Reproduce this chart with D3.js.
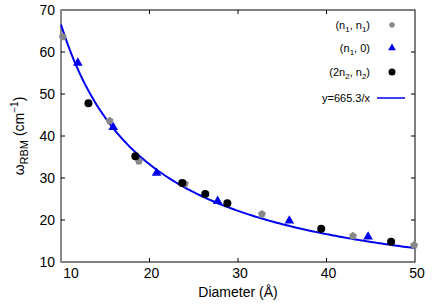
<!DOCTYPE html>
<meta charset="utf-8">
<head>
  <script src="https://d3js.org/d3.v7.min.js"></script>
</head>
<body style="margin:0">
<div id="chart"></div>
<style>
  #chart text { font-family: "Liberation Sans", Arial, sans-serif; fill: #000; }
</style>
<script>
"use strict"

// (n1, n1) armchair
var armX = [10.2, 15.5, 18.8, 24.0, 32.7, 43.0, 49.9];
var armY = [63.6, 43.6, 34.0, 28.6, 21.4, 16.2, 14.0];
// (n1, 0) zigzag
var zigX = [11.9, 15.9, 20.8, 27.7, 35.8, 44.7];
var zigY = [57.4, 42.1, 31.2, 24.5, 19.8, 16.0];
// (2n2, n2) chiral
var chiX = [13.1, 18.4, 23.7, 26.3, 28.8, 39.4, 47.3];
var chiY = [47.8, 35.2, 28.8, 26.2, 24.0, 17.9, 14.8];
var fitA = 665.3;
var xTicks = [10, 20, 30, 40, 50];
var yTicks = [10, 20, 30, 40, 50, 60, 70];
var legendLabels = ["(n1, n1)", "(n1, 0)", "(2n2, n2)", "y=665.3/x"];

var W = 436, H = 305;
var margin = {top: 10, right: 21, bottom: 43, left: 61};
var w = W - margin.left - margin.right, h = H - margin.top - margin.bottom;

var svg = d3.select('#chart').append('svg').attr('width', W).attr('height', H);
var g = svg.append('g').attr('transform', 'translate(' + margin.left + ',' + margin.top + ')');

var x = d3.scaleLinear().domain([10, 50]).range([0, w]);
var y = d3.scaleLinear().domain([10, 70]).range([h, 0]);

// frame
g.append('rect').attr('width', w).attr('height', h).attr('fill', 'none').attr('stroke', '#000').attr('stroke-width', 1);
g.append('line').attr('x1', 0).attr('x2', 0).attr('y1', 0).attr('y2', h).attr('stroke', '#888').attr('stroke-width', 2);

// inner ticks
g.selectAll('.tx').data(xTicks.slice(1, -1)).enter().append('g').each(function(d) {
  var s = d3.select(this);
  s.append('line').attr('x1', x(d)).attr('x2', x(d)).attr('y1', h).attr('y2', h - 4).attr('stroke', '#000');
  s.append('line').attr('x1', x(d)).attr('x2', x(d)).attr('y1', 0).attr('y2', 4).attr('stroke', '#000');
});
g.selectAll('.ty').data(yTicks.slice(1, -1)).enter().append('g').each(function(d) {
  var s = d3.select(this);
  s.append('line').attr('x1', 0).attr('x2', 4).attr('y1', y(d)).attr('y2', y(d)).attr('stroke', '#000');
  s.append('line').attr('x1', w).attr('x2', w - 4).attr('y1', y(d)).attr('y2', y(d)).attr('stroke', '#000');
});

// tick labels
g.selectAll('.lx').data(xTicks).enter().append('text')
  .attr('x', function(d, i) { return x(d) + (i === 0 ? 10 : 2); })
  .attr('y', h + 16).attr('text-anchor', 'middle').style('font-size', '14px')
  .text(function(d) { return d; });
g.selectAll('.ly').data(yTicks).enter().append('text')
  .attr('x', -6).attr('y', function(d) { return y(d) + 5; })
  .attr('text-anchor', 'end').style('font-size', '14px')
  .text(function(d) { return d; });

// axis titles
var xt = g.append('text').attr('x', w / 2).attr('y', h + 35).attr('text-anchor', 'middle').style('font-size', '14px');
xt.text('Diameter (Å)');
var yt = g.append('text').attr('transform', 'translate(-37,' + (h / 2) + ') rotate(-90)').attr('text-anchor', 'middle').style('font-size', '14px');
yt.append('tspan').text('ω');
yt.append('tspan').attr('dy', 4).style('font-size', '11px').text('RBM');
yt.append('tspan').attr('dy', -4).text(' (cm');
yt.append('tspan').attr('dy', -6).style('font-size', '10px').text('−1');
yt.append('tspan').attr('dy', 6).text(')');

// fit curve
var xs = d3.range(10, 50.01, 0.25);
g.append('path').datum(xs)
  .attr('d', d3.line().x(function(d) { return x(d); }).y(function(d) { return y(fitA / d); }))
  .attr('fill', 'none').attr('stroke', '#0000ee').attr('stroke-width', 2);

// markers
function pentagon(r) {
  var p = [];
  for (var k = 0; k < 5; k++) {
    var a = -Math.PI / 2 + k * 2 * Math.PI / 5;
    p.push([r * Math.cos(a), r * Math.sin(a)]);
  }
  return 'M' + p.join('L') + 'Z';
}
g.selectAll('.arm').data(armX).enter().append('path')
  .attr('d', pentagon(4.2))
  .attr('transform', function(d, i) { return 'translate(' + x(d) + ',' + y(armY[i]) + ')'; })
  .attr('fill', '#888');
g.selectAll('.zig').data(zigX).enter().append('path')
  .attr('d', d3.symbol().type(d3.symbolTriangle).size(40))
  .attr('transform', function(d, i) { return 'translate(' + x(d) + ',' + y(zigY[i]) + ')'; })
  .attr('fill', '#0000ee');
g.selectAll('.chi').data(chiX).enter().append('circle')
  .attr('cx', function(d) { return x(d); }).attr('cy', function(d, i) { return y(chiY[i]); })
  .attr('r', 4).attr('fill', '#000');

// legend
var rows = [25, 48, 72, 98];
var leg = svg.append('g');
function subLabel(t, label) {
  var parts = label.split(/(n[12])/);
  var shift = 0;
  parts.forEach(function(p) {
    if (/^n[12]$/.test(p)) {
      t.append('tspan').attr('dy', shift).text('n');
      t.append('tspan').attr('dy', 3).style('font-size', '8px').text(p[1]);
      shift = -3;
    } else if (p) {
      t.append('tspan').attr('dy', shift).text(p);
      shift = 0;
    }
  });
}
legendLabels.forEach(function(l, i) {
  var t = leg.append('text').attr('x', 370).attr('y', rows[i] + 4).attr('text-anchor', 'end').style('font-size', '11px');
  subLabel(t, l);
});
leg.append('path').attr('d', pentagon(3.2)).attr('transform', 'translate(392,' + rows[0] + ')').attr('fill', '#888');
leg.append('path').attr('d', d3.symbol().type(d3.symbolTriangle).size(26)).attr('transform', 'translate(392,' + rows[1] + ')').attr('fill', '#0000ee');
leg.append('circle').attr('cx', 392).attr('cy', rows[2]).attr('r', 3.5).attr('fill', '#000');
leg.append('line').attr('x1', 377).attr('x2', 405).attr('y1', rows[3]).attr('y2', rows[3]).attr('stroke', '#0000ee').attr('stroke-width', 1.5);
</script>
</body>
